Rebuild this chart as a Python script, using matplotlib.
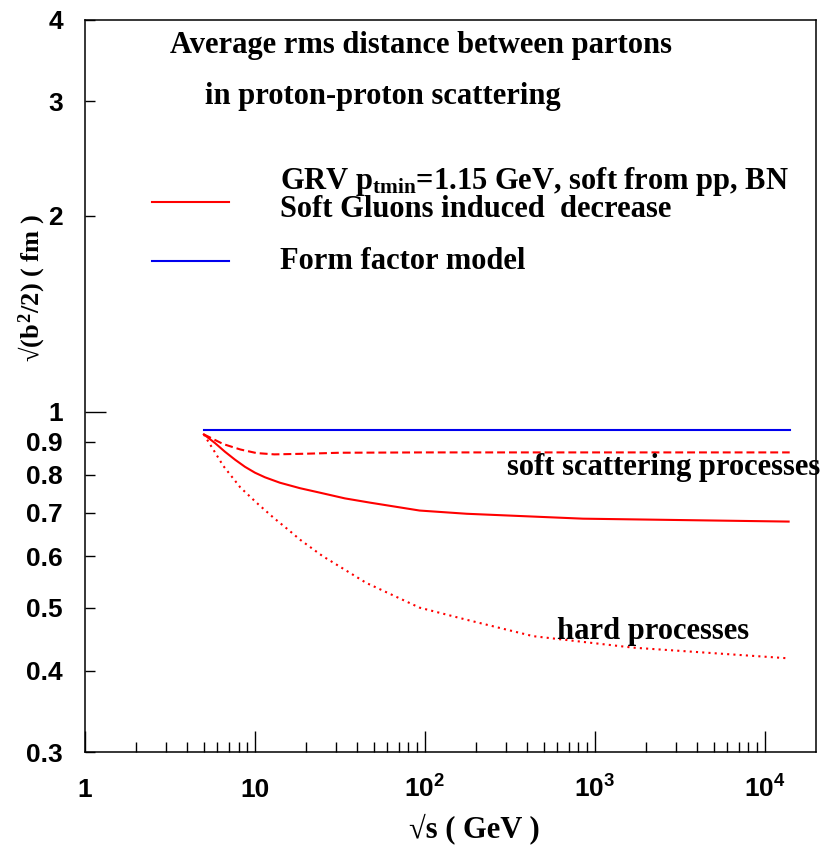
import numpy as np
import matplotlib
matplotlib.use("Agg")
import matplotlib.pyplot as plt
from matplotlib.lines import Line2D
from matplotlib.legend_handler import HandlerLine2D

# sqrt(s) in GeV and average rms distance in fm
x_form = [5, 14000]
y_form = [0.937, 0.937]

x_soft = [5, 6.5, 8.2, 10.2, 13, 20, 31.6, 100, 1000, 14000]
y_soft = [0.923, 0.892, 0.875, 0.864, 0.860, 0.862, 0.865, 0.866, 0.866, 0.866]

x_total = [5, 5.82, 6.66, 7.63, 8.73, 10, 11.45, 14, 18.4, 24.1, 33.8, 47.5, 93, 176, 850, 13800]
y_total = [0.923, 0.895, 0.868, 0.844, 0.823, 0.806, 0.793, 0.778, 0.763, 0.751, 0.736, 0.725,
           0.705, 0.697, 0.685, 0.678]

x_hard = [5, 5.74, 6.5, 8.2, 10.2, 12.8, 16, 18.4, 25, 29, 45, 93, 176, 433, 1680, 13600]
y_hard = [0.923, 0.871, 0.826, 0.765, 0.725, 0.688, 0.656, 0.636, 0.600, 0.586, 0.546, 0.500,
          0.479, 0.452, 0.434, 0.418]

x_ticks = [1, 10, 100, 1000, 10000]
x_labels = ["1", "10", r"$\mathbf{10^{2}}$", r"$\mathbf{10^{3}}$", r"$\mathbf{10^{4}}$"]
y_minor = [0.3, 0.4, 0.5, 0.6, 0.7, 0.8, 0.9, 2, 3, 4]
y_minor_labels = ["0.3", "0.4", "0.5", "0.6", "0.7", "0.8", "0.9", "2", "3", "4"]

plt.rcParams['font.family'] = ['Liberation Serif', 'DejaVu Serif']
plt.rcParams['font.weight'] = 'bold'
plt.rcParams['mathtext.fontset'] = 'custom'
plt.rcParams['mathtext.rm'] = 'Liberation Serif:bold'
plt.rcParams['mathtext.it'] = 'Liberation Serif:bold'
plt.rcParams['mathtext.bf'] = 'Liberation Sans:bold'


class ShiftedLine(HandlerLine2D):
    # legend line drawn a few pixels lower than the centre of its label
    def __init__(self, shift=0, **kw):
        super().__init__(**kw)
        self.shift = shift

    def create_artists(self, legend, orig_handle, xdescent, ydescent, width, height, fontsize, trans):
        arts = super().create_artists(legend, orig_handle, xdescent, ydescent, width, height, fontsize, trans)
        for a in arts:
            a.set_ydata([y - self.shift for y in a.get_ydata()])
        return arts


fig = plt.figure(figsize=(8.24, 8.46), dpi=100)
ax = fig.add_axes([0.1032, 0.1111, 0.8871, 0.8653])

red = '#ff0000'
blue = '#0000ee'
ax.plot(x_form, y_form, color=blue, lw=1.5)
ax.plot(x_soft, y_soft, color=red, lw=1.5, linestyle=(0, (3.8, 1.9)))
ax.plot(x_total, y_total, color=red, lw=1.5)
ax.plot(x_hard, y_hard, color=red, lw=1.5, linestyle=(0, (1, 2)))

ax.set_xscale('log')
ax.set_yscale('log')
ax.set_xlim(1, 20000)
ax.set_ylim(0.3, 4.0)

for s in ax.spines.values():
    s.set_linewidth(1.1)

# x axis ticks
ax.set_xticks(x_ticks)
ax.set_xticklabels(x_labels)
minors = [m * d for d in [1, 10, 100, 1000] for m in range(2, 10)]
ax.set_xticks(minors, minor=True)
ax.tick_params(axis='x', which='major', direction='in', length=15, width=1, pad=32.5)
ax.tick_params(axis='x', which='minor', direction='in', length=7, width=1, labelbottom=False)
for t in ax.xaxis.get_major_ticks():
    t.label1.set_verticalalignment('baseline')
    t.label1.set_fontfamily('Liberation Sans')
    t.label1.set_fontweight('bold')
    t.label1.set_fontsize(19)

# y axis ticks
ax.set_yticks([1])
ax.set_yticklabels(["1"])
ax.set_yticks(y_minor, minor=True)
ax.set_yticklabels(y_minor_labels, minor=True)
ax.tick_params(axis='y', which='major', direction='in', length=15, width=1, pad=16)
ax.tick_params(axis='y', which='minor', direction='in', length=7, width=1, pad=16)
for lbl in ax.get_yticklabels() + ax.get_yticklabels(minor=True):
    lbl.set_fontfamily('Liberation Sans')
    lbl.set_fontweight('bold')
    lbl.set_fontsize(19)

ax.set_xlabel("√s ( GeV )", fontsize=22, fontweight='bold')
ax.xaxis.set_label_coords(0.532, -0.084)
ax.set_ylabel("√($b^{2}$/2) ( fm )", fontsize=19, fontweight='bold')
ax.yaxis.set_label_coords(-0.052, 0.634)

ax.text(0.46, 0.9645, "Average rms distance between partons", transform=ax.transAxes,
        ha='center', va='center', fontsize=22, fontweight='bold')
ax.text(0.408, 0.896, "in proton-proton scattering", transform=ax.transAxes,
        ha='center', va='center', fontsize=22, fontweight='bold')

ax.text(0.577, 0.378, "soft scattering processes", transform=ax.transAxes,
        ha='left', va='baseline', fontsize=22, fontweight='bold', clip_on=False)
ax.text(0.646, 0.154, "hard processes", transform=ax.transAxes,
        ha='left', va='baseline', fontsize=22, fontweight='bold')

h_red = Line2D([], [], color=red, lw=1.5)
h_blue = Line2D([], [], color=blue, lw=1.5)
labels = ["GRV $p_{tmin}$=1.15 GeV, soft from pp, BN\nSoft Gluons induced  decrease",
          "Form factor model"]
leg = ax.legend([h_red, h_blue], labels, loc='upper left', bbox_to_anchor=(0.0917, 0.8015),
                frameon=False, fontsize=22, handlelength=2.52, handletextpad=1.67,
                labelspacing=0.75, borderpad=0, borderaxespad=0,
                handler_map={h_red: ShiftedLine(shift=5), h_blue: ShiftedLine(shift=2)})
for t in leg.get_texts():
    t.set_fontweight('bold')
    t.set_linespacing(0.85)

fig.savefig("out.png", dpi=100)
